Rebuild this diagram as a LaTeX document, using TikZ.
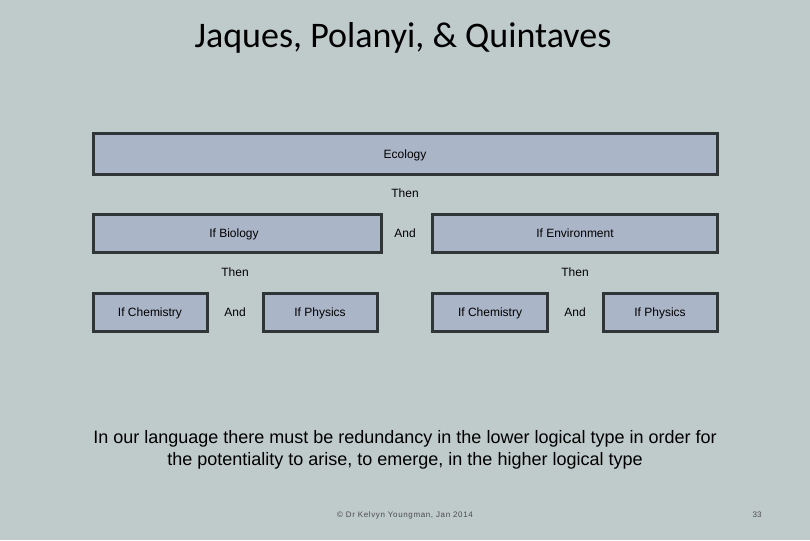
\documentclass[tikz,border=0pt]{standalone}
\usepackage{fontspec}
\setmainfont{Liberation Sans}
\newfontfamily\titlefont{Carlito}
\definecolor{bg}{HTML}{BFCBCA}
\definecolor{boxfill}{HTML}{ABB5C8}
\definecolor{boxline}{HTML}{303538}
\begin{document}
\begin{tikzpicture}[x=1pt,y=-1pt,
  lbox/.style={draw=boxline,line width=3pt,fill=boxfill},
  lbl/.style={font=\fontsize{12}{14}\selectfont,anchor=base,inner sep=0pt}]
\fill[bg] (0,0) rectangle (810,540);
\useasboundingbox (0,0) rectangle (810,540);
\node[font=\titlefont\fontsize{36}{42}\selectfont,anchor=base,inner sep=0pt] (title) at (403,48) {Jaques, Polanyi, \& Quintaves};
\draw[lbox] (93,134) rectangle (717,174); \node[lbl] (eco) at (405,158) {Ecology};
\node[lbl] (then1) at (405,197) {Then};
\draw[lbox] (93,214) rectangle (381,252); \node[lbl] (bio) at (234,237) {If Biology};
\node[lbl] (and1) at (405,237) {And};
\draw[lbox] (432,214) rectangle (717,252); \node[lbl] (env) at (575,237) {If Environment};
\node[lbl] (then2) at (235,276) {Then};
\node[lbl] (then3) at (575,276) {Then};
\draw[lbox] (93,293) rectangle (207,331); \node[lbl] (ch1) at (150,316) {If Chemistry};
\node[lbl] (and2) at (235,316) {And};
\draw[lbox] (263,293) rectangle (377,331); \node[lbl] (ph1) at (320,316) {If Physics};
\draw[lbox] (432,293) rectangle (547,331); \node[lbl] (ch2) at (490,316) {If Chemistry};
\node[lbl] (and3) at (575,316) {And};
\draw[lbox] (603,293) rectangle (717,331); \node[lbl] (ph2) at (660,316) {If Physics};
\node[font=\fontsize{18}{22}\selectfont,align=center] (txt) at (405,450) {In our language there must be redundancy in the lower logical type in order for\\the potentiality to arise, to emerge, in the higher logical type};
\node[font=\fontsize{8}{10}\selectfont\addfontfeature{LetterSpace=8},text=black!70] (foot) at (405,515) {© Dr Kelvyn Youngman, Jan 2014};
\node[font=\fontsize{8}{10}\selectfont,text=black!70] (pg) at (757,515) {33};
\end{tikzpicture}
\end{document}
